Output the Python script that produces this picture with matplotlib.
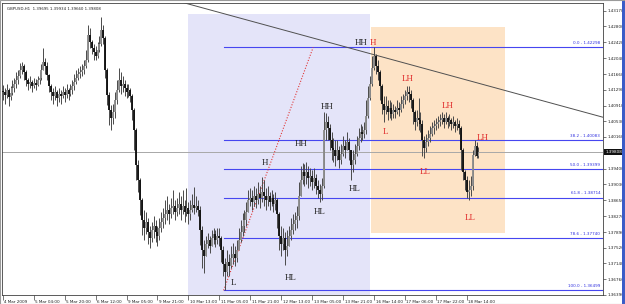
import numpy as np
import matplotlib
matplotlib.use("Agg")
import matplotlib.pyplot as plt
from matplotlib.patches import Rectangle
import matplotlib.transforms as mtrans

# ---------------- data (GBPUSD, H1) ----------------
closes = [
    1.4123,1.4116,1.4128,1.4111,1.4121,1.4133,1.4142,1.4152,1.4162,1.4176,
    1.4186,1.4171,1.4152,1.4142,1.4147,1.4138,1.4145,1.4140,1.4152,1.4157,
    1.4176,1.4195,1.4186,1.4164,1.4138,1.4123,1.4114,1.4123,1.4109,1.4119,
    1.4114,1.4123,1.4116,1.4128,1.4119,1.4128,1.4138,1.4147,1.4157,1.4166,
    1.4171,1.4176,1.4186,1.4200,1.4259,1.4243,1.4228,1.4219,1.4209,1.4224,
    1.4238,1.4271,1.4252,1.4176,1.4116,1.4080,1.4061,1.4076,1.4104,1.4128,
    1.4152,1.4138,1.4142,1.4133,1.4123,1.4128,1.4114,1.4080,1.4033,1.3949,
    1.3913,1.3866,1.3818,1.3799,1.3813,1.3789,1.3775,1.3794,1.3804,1.3789,
    1.3780,1.3799,1.3813,1.3823,1.3832,1.3842,1.3832,1.3847,1.3851,1.3837,
    1.3847,1.3856,1.3842,1.3851,1.3837,1.3847,1.3832,1.3842,1.3854,1.3847,
    1.3851,1.3842,1.3794,1.3746,1.3732,1.3761,1.3770,1.3756,1.3775,1.3784,
    1.3770,1.3780,1.3775,1.3746,1.3713,1.3694,1.3718,1.3708,1.3727,1.3737,
    1.3727,1.3746,1.3770,1.3789,1.3804,1.3818,1.3837,1.3866,1.3870,1.3861,
    1.3875,1.3866,1.3880,1.3870,1.3885,1.3875,1.3866,1.3875,1.3861,1.3870,
    1.3856,1.3866,1.3832,1.3780,1.3761,1.3775,1.3746,1.3756,1.3780,1.3794,
    1.3808,1.3818,1.3827,1.3875,1.3913,1.3932,1.3923,1.3932,1.3918,1.3923,
    1.3909,1.3918,1.3899,1.3890,1.3880,1.3899,1.4033,1.4052,1.4037,1.4009,
    1.3990,1.3985,1.3971,1.3985,1.3961,1.3975,1.3995,1.3985,1.4004,1.3985,
    1.3949,1.3961,1.3975,1.3995,1.4014,1.4028,1.4023,1.4033,1.4066,1.4109,
    1.4142,1.4181,1.4209,1.4186,1.4171,1.4138,1.4095,1.4080,1.4090,1.4076,
    1.4085,1.4071,1.4080,1.4076,1.4085,1.4080,1.4095,1.4104,1.4114,1.4123,
    1.4119,1.4104,1.4076,1.4052,1.4061,1.4057,1.4047,1.4009,1.3990,1.4004,
    1.4014,1.4023,1.4037,1.4042,1.4047,1.4052,1.4057,1.4061,1.4052,1.4061,
    1.4052,1.4057,1.4047,1.4052,1.4042,1.4047,1.4037,1.3985,1.3932,1.3913,
    1.3885,1.3890,1.3899,1.3973,1.3995,1.3970,1.3981,
]
highs = [
    1.4140,1.4133,1.4142,1.4133,1.4138,1.4152,1.4157,1.4171,1.4176,1.4193,
    1.4195,1.4190,1.4176,1.4157,1.4162,1.4152,1.4157,1.4154,1.4162,1.4171,
    1.4190,1.4228,1.4205,1.4195,1.4166,1.4142,1.4133,1.4138,1.4128,1.4133,
    1.4128,1.4138,1.4133,1.4142,1.4133,1.4142,1.4152,1.4166,1.4176,1.4181,
    1.4186,1.4190,1.4200,1.4224,1.4283,1.4276,1.4248,1.4238,1.4233,1.4243,
    1.4257,1.4302,1.4283,1.4257,1.4181,1.4123,1.4092,1.4095,1.4123,1.4152,
    1.4181,1.4171,1.4162,1.4152,1.4142,1.4142,1.4133,1.4119,1.4085,1.4037,
    1.3961,1.3918,1.3870,1.3842,1.3837,1.3823,1.3804,1.3813,1.3827,1.3818,
    1.3804,1.3823,1.3837,1.3847,1.3866,1.3875,1.3856,1.3870,1.3890,1.3866,
    1.3870,1.3885,1.3875,1.3890,1.3866,1.3894,1.3861,1.3866,1.3880,1.3897,
    1.3875,1.3866,1.3851,1.3804,1.3770,1.3780,1.3787,1.3780,1.3794,1.3799,
    1.3794,1.3799,1.3799,1.3780,1.3756,1.3727,1.3746,1.3737,1.3756,1.3763,
    1.3756,1.3770,1.3799,1.3818,1.3835,1.3842,1.3861,1.3890,1.3894,1.3890,
    1.3899,1.3894,1.3909,1.3899,1.3921,1.3913,1.3894,1.3899,1.3885,1.3890,
    1.3880,1.3885,1.3870,1.3837,1.3804,1.3799,1.3789,1.3794,1.3804,1.3823,
    1.3832,1.3837,1.3851,1.3909,1.3947,1.3954,1.3952,1.3956,1.3947,1.3942,
    1.3937,1.3942,1.3928,1.3913,1.3904,1.3918,1.4076,1.4073,1.4066,1.4047,
    1.4028,1.4014,1.4009,1.4009,1.3995,1.3999,1.4018,1.4009,1.4028,1.4014,
    1.3985,1.3985,1.3999,1.4018,1.4037,1.4047,1.4042,1.4052,1.4104,1.4138,
    1.4162,1.4209,1.4230,1.4214,1.4200,1.4176,1.4142,1.4114,1.4114,1.4104,
    1.4104,1.4100,1.4095,1.4090,1.4104,1.4100,1.4114,1.4119,1.4128,1.4138,
    1.4138,1.4128,1.4109,1.4080,1.4080,1.4109,1.4076,1.4057,1.4018,1.4023,
    1.4033,1.4042,1.4052,1.4057,1.4061,1.4066,1.4071,1.4076,1.4071,1.4076,
    1.4066,1.4071,1.4061,1.4066,1.4057,1.4061,1.4057,1.4042,1.3990,1.3937,
    1.3923,1.3913,1.3923,1.3985,1.4009,1.4004,1.3993,
]
lows = [
    1.4104,1.4095,1.4109,1.4090,1.4104,1.4116,1.4123,1.4133,1.4142,1.4157,
    1.4166,1.4152,1.4138,1.4128,1.4133,1.4123,1.4133,1.4128,1.4138,1.4142,
    1.4152,1.4176,1.4166,1.4152,1.4123,1.4104,1.4095,1.4104,1.4090,1.4100,
    1.4095,1.4109,1.4100,1.4109,1.4104,1.4114,1.4119,1.4128,1.4142,1.4152,
    1.4157,1.4162,1.4166,1.4181,1.4195,1.4228,1.4214,1.4200,1.4200,1.4205,
    1.4219,1.4233,1.4238,1.4157,1.4092,1.4045,1.4033,1.4047,1.4061,1.4095,
    1.4123,1.4119,1.4123,1.4114,1.4109,1.4111,1.4100,1.4057,1.3985,1.3913,
    1.3885,1.3830,1.3782,1.3770,1.3784,1.3761,1.3751,1.3765,1.3775,1.3765,
    1.3756,1.3770,1.3789,1.3799,1.3808,1.3818,1.3808,1.3823,1.3832,1.3818,
    1.3827,1.3832,1.3818,1.3832,1.3813,1.3827,1.3808,1.3818,1.3837,1.3832,
    1.3837,1.3827,1.3758,1.3703,1.3691,1.3741,1.3751,1.3739,1.3756,1.3761,
    1.3753,1.3761,1.3756,1.3718,1.3684,1.3650,1.3684,1.3684,1.3703,1.3713,
    1.3708,1.3718,1.3746,1.3765,1.3780,1.3789,1.3804,1.3837,1.3851,1.3842,
    1.3851,1.3847,1.3856,1.3847,1.3861,1.3851,1.3842,1.3851,1.3842,1.3851,
    1.3837,1.3842,1.3799,1.3746,1.3732,1.3746,1.3710,1.3732,1.3756,1.3770,
    1.3784,1.3794,1.3799,1.3818,1.3875,1.3904,1.3899,1.3904,1.3894,1.3899,
    1.3890,1.3894,1.3880,1.3870,1.3861,1.3866,1.3894,1.4009,1.4009,1.3985,
    1.3961,1.3956,1.3947,1.3961,1.3942,1.3952,1.3971,1.3966,1.3985,1.3961,
    1.3913,1.3932,1.3952,1.3971,1.3985,1.4004,1.4009,1.4014,1.4023,1.4061,
    1.4104,1.4138,1.4176,1.4166,1.4152,1.4104,1.4071,1.4052,1.4071,1.4057,
    1.4061,1.4057,1.4061,1.4061,1.4071,1.4066,1.4076,1.4085,1.4095,1.4104,
    1.4100,1.4085,1.4047,1.4033,1.4042,1.4033,1.4028,1.3971,1.3966,1.3980,
    1.3995,1.4004,1.4018,1.4023,1.4033,1.4037,1.4042,1.4047,1.4037,1.4047,
    1.4037,1.4042,1.4033,1.4037,1.4028,1.4033,1.4023,1.3937,1.3913,1.3890,
    1.3870,1.3866,1.3875,1.3890,1.3971,1.3966,1.3966,
]
first_open = 1.4125
opens = [first_open] + closes[:-1]

time_labels = ["4 Mar 2009", "5 Mar 04:00", "5 Mar 20:00", "6 Mar 12:00",
               "9 Mar 05:00", "9 Mar 21:00", "10 Mar 13:00", "11 Mar 05:00",
               "11 Mar 21:00", "12 Mar 13:00", "13 Mar 05:00", "13 Mar 21:00",
               "16 Mar 14:00", "17 Mar 06:00", "17 Mar 22:00", "18 Mar 14:00"]
bars_per_label = 16

price_ticks = [1.43170, 1.42800, 1.42420, 1.42040, 1.41660, 1.41290, 1.40910,
               1.40530, 1.40160, 1.39400, 1.39030, 1.38650, 1.38270, 1.37890,
               1.37520, 1.37140, 1.36760, 1.36390]
current_price = 1.39808
header = "GBPUSD,H1  1.39695 1.39934 1.39660 1.39808"

fib_pct = ["0.0", "38.2", "50.0", "61.8", "78.6", "100.0"]
fib_price = [1.42298, 1.40083, 1.39399, 1.38714, 1.37740, 1.36499]
fib_start_bar = 114.2
fib_line_end_bar = 160.5

# swing labels
swing_text = ["L", "HL", "H", "HL", "HH", "HL", "HH", "HH", "H", "LH", "L", "LL", "LH", "LL", "LH"]
swing_bar = [119.1, 149.1, 135.6, 164.1, 154.3, 182.2, 167.7, 185.3, 191.5, 209.6, 197.7, 218.4, 230.2, 241.6, 248.3]
swing_price = [1.3668, 1.3679, 1.3954, 1.3837, 1.3999, 1.3892, 1.4088, 1.4240, 1.4240, 1.4154, 1.4028, 1.3932, 1.4090, 1.3823, 1.4014]
swing_red = [False, False, False, False, False, False, False, False, True, True, True, True, True, True, True]

# zones
blue_zone = (95.8, 189.9, 1.3600, 1.4310)
orange_zone = (190.4, 259.7, 1.3787, 1.4279)
trend_start = (90.0, 1.4341)
trend_end = (320.0, 1.4051)

# ---------------- figure ----------------
W, H = 625, 304
fig = plt.figure(figsize=(W / 100, H / 100), dpi=100)
fig.patch.set_facecolor("white")
ax = fig.add_axes([2 / W, 9 / H, 601 / W, 292 / H])
ax.set_facecolor("white")
ax.set_xlim(-0.4, 310.4)
ax.set_ylim(1.36388, 1.43358)

x0, x1, y0, y1 = blue_zone
ax.add_patch(Rectangle((x0, y0), x1 - x0, y1 - y0, facecolor="#E4E4F9", edgecolor="none", zorder=0))
x0, x1, y0, y1 = orange_zone
ax.add_patch(Rectangle((x0, y0), x1 - x0, y1 - y0, facecolor="#FDE3C6", edgecolor="none", zorder=0))

ax.axhline(current_price, color="#A8A8A8", lw=0.7, zorder=1)

for pct, p in zip(fib_pct, fib_price):
    ax.plot([fib_start_bar, 310.4], [p, p], color="#4646F0", lw=0.8, zorder=2)
    ax.annotate(f"{pct} - {p:.5f}", xy=(1.0, p), xycoords=("axes fraction", "data"),
                xytext=(-2, 1.5), textcoords="offset points", ha="right", va="bottom",
                fontsize=3, color="#3030E0", zorder=5)
ax.plot([fib_start_bar, fib_line_end_bar], [fib_price[-1], fib_price[0]],
        color="#E03A3A", lw=0.8, ls=(0, (1, 1.5)), zorder=2)

ax.plot([trend_start[0], trend_end[0]], [trend_start[1], trend_end[1]],
        color="#505050", lw=0.7, zorder=3)

idx = np.arange(len(closes))
o = np.array(opens); c = np.array(closes)
h = np.maximum(np.array(highs), np.maximum(o, c))
l = np.minimum(np.array(lows), np.minimum(o, c))
ax.vlines(idx, l, h, color="#4A4A4A", lw=0.7, zorder=4)
bull = c >= o
ax.vlines(idx[bull], o[bull], c[bull], color="#8C8C8C", lw=1.35, zorder=4)
ax.vlines(idx[~bull], c[~bull], o[~bull], color="#111111", lw=1.35, zorder=4)

for t, bx, py, red in zip(swing_text, swing_bar, swing_price, swing_red):
    ax.text(bx, py, t, ha="center", va="center", fontsize=6.5,
            family="Liberation Serif", color="#E02828" if red else "#222222", zorder=6)

for s in ax.spines.values():
    s.set_color("#404040"); s.set_linewidth(0.6)

ticks_x = [i * bars_per_label for i in range(len(time_labels))]
ax.set_xticks(ticks_x)
ax.set_xticklabels(time_labels)
ax.tick_params(axis="x", direction="out", length=3.5, width=0.5, color="#404040",
               labelsize=3, pad=0.2, labelcolor="#202020")
shift = mtrans.ScaledTranslation(1.5 / 100, 0, fig.dpi_scale_trans)
for lab in ax.get_xticklabels():
    lab.set_ha("left")
    lab.set_transform(lab.get_transform() + shift)

ax.yaxis.tick_right()
ax.set_yticks(price_ticks)
ax.set_yticklabels([f"{p:.5f}" for p in price_ticks])
ax.tick_params(axis="y", direction="out", length=2, width=0.5, color="#404040",
               labelsize=3, pad=1.5, labelcolor="#202020")

ax.text(1.004, current_price, f"{current_price:.5f}", transform=ax.get_yaxis_transform(),
        ha="left", va="center", fontsize=3, color="white",
        bbox=dict(boxstyle="square,pad=0.25", facecolor="#111111", edgecolor="none"))

ax.text(0.008, 0.987, header, transform=ax.transAxes, ha="left", va="top",
        fontsize=2.8, color="#202020")

fig.add_artist(Rectangle((622 / W, 0), 3 / W, 1, transform=fig.transFigure,
                         facecolor="#3A5BC8", edgecolor="none"))
fig.add_artist(Rectangle((0, 0), 1, 1, transform=fig.transFigure, fill=False,
                         edgecolor="#9A9A9A", lw=0.8))

fig.savefig("out.png", dpi=100)
